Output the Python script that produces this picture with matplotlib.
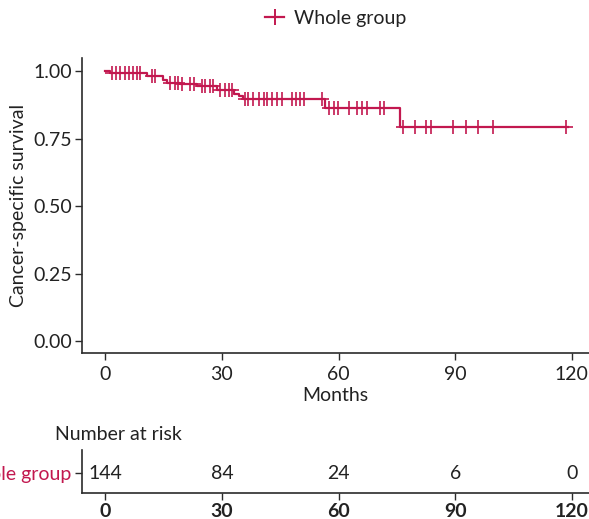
import matplotlib
matplotlib.use("Agg")
import matplotlib.pyplot as plt
from matplotlib.lines import Line2D
import numpy as np

plt.rcParams['font.family'] = ['Lato', 'DejaVu Sans']

# Kaplan-Meier step curve (time of drop, survival after drop)
step_times = [0, 1.3, 10.7, 14.9, 15.8, 19.3, 23.5, 28.7, 33.0, 34.3, 35.5, 56.5, 75.8]
step_surv = [1.0, 0.994, 0.982, 0.970, 0.958, 0.952, 0.945, 0.930, 0.918, 0.908, 0.897, 0.865, 0.793]
end_time = 119.0

# censoring times
censor_times = [1.7, 2.7, 3.9, 5.0, 6.0, 7.0, 8.2, 9.0, 12.0, 12.8, 16.7, 18.0, 18.8,
                19.7, 21.7, 22.7, 24.8, 25.7, 26.8, 27.7, 29.5, 30.8, 31.7, 32.5,
                35.9, 36.8, 38.1, 39.4, 40.7, 41.7, 42.8, 44.1, 45.4, 48.0, 49.1,
                50.1, 51.2, 55.7, 57.4, 58.7, 59.9, 62.8, 64.8, 66.0, 67.3, 70.7,
                71.8, 76.6, 79.6, 82.6, 83.7, 89.5, 92.7, 95.9, 99.6, 118.6]

group_label = "Whole group"
risk_times = [0, 30, 60, 90, 120]
risk_counts = [144, 84, 24, 6, 0]
x_ticks = [0, 30, 60, 90, 120]
y_ticks = [0.0, 0.25, 0.50, 0.75, 1.00]

color = "#C2184F"
spine_c = "#2b2b2b"
text_c = "#222222"
fs = 14

fig = plt.figure(figsize=(5.89, 5.19), dpi=100)
ax = fig.add_axes([82/589, 1-353/519, 1-82/589, (353-58)/519])

# step curve
xs = list(step_times) + [end_time]
ys = list(step_surv) + [step_surv[-1]]
ax.step(xs, ys, where='post', color=color, lw=1.6)

def surv_at(t):
    s = 1.0
    for tt, ss in zip(step_times, step_surv):
        if tt <= t:
            s = ss
    return s

cy = [surv_at(t) for t in censor_times]
ax.plot(censor_times, cy, ls='none', marker='+', ms=10, mew=1.2, color=color)

ax.set_xlim(-6, 124.4)
ax.set_ylim(-0.045, 1.05)
ax.set_xticks(x_ticks)
ax.set_yticks(y_ticks)
ax.set_yticklabels([f"{v:.2f}" for v in y_ticks])
for s in ['top', 'right']:
    ax.spines[s].set_visible(False)
for s in ['left', 'bottom']:
    ax.spines[s].set_color(spine_c)
    ax.spines[s].set_linewidth(1.2)
ax.tick_params(axis='both', colors=spine_c, labelcolor=text_c, labelsize=fs, length=5, width=1)
ax.tick_params(axis='x', pad=4)
ax.tick_params(axis='y', pad=2)
ax.set_xlabel("Months", fontsize=fs, color=text_c, labelpad=3)
ax.set_ylabel("Cancer-specific survival", fontsize=fs, color=text_c, labelpad=5)

# legend
handle = Line2D([], [], color=color, lw=1.6, marker='+', ms=11, mew=1.4)
fig.legend([handle], [group_label], loc='center', bbox_to_anchor=(0.57, 0.965),
           frameon=False, fontsize=fs, handlelength=1.0, handletextpad=0.5,
           labelcolor=text_c)

# risk table
rax = fig.add_axes([82/589, 1-493/519, 1-82/589, (493-450)/519])
rax.set_xlim(-6, 124.4)
rax.set_ylim(0, 1)
for t, n in zip(risk_times, risk_counts):
    rax.text(t, 0.465, str(n), ha='center', va='center', fontsize=fs, color=text_c)
rax.set_yticks([0.465])
rax.set_yticklabels([group_label], color=color)
rax.set_xticks(x_ticks)
rax.set_xticklabels([str(v) for v in x_ticks], fontweight='bold')
for s in ['top', 'right']:
    rax.spines[s].set_visible(False)
for s in ['left', 'bottom']:
    rax.spines[s].set_color(spine_c)
    rax.spines[s].set_linewidth(1.2)
rax.tick_params(axis='both', colors=spine_c, labelsize=fs, length=5, width=1)
rax.tick_params(axis='x', labelcolor=text_c, pad=2)
rax.tick_params(axis='y', labelcolor=color, pad=3)
fig.text(55/589, 1-435/519, "Number at risk", fontsize=fs, color=text_c, va='center', ha='left')

fig.savefig("out.png", dpi=100)
